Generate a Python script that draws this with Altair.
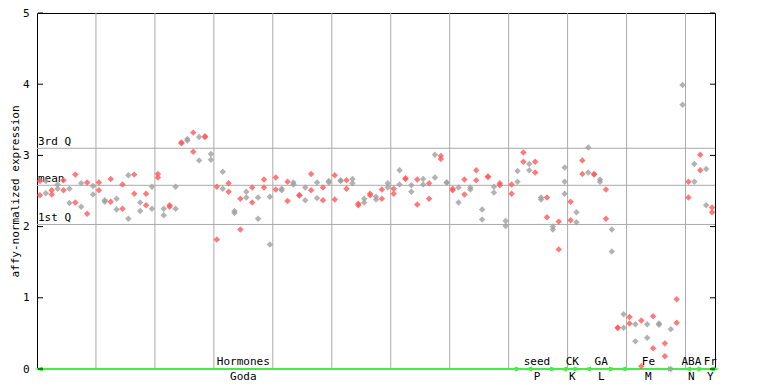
import altair as alt
import pandas as pd

# ---- data ----
val_a = [2.64, 2.64, 2.51, 2.59, 2.65, 2.53, 2.73, 2.61, 2.62, 2.57,
         2.62, 2.37, 2.67, 2.39, 2.59, 2.72, 2.73, 2.34, 2.46, 2.56,
         2.74, 2.25, 2.30, 2.56, 3.18, 3.23, 3.32, 3.26, 3.26, 3.02,
         2.56, 2.77, 2.61, 2.22, 2.39, 2.49, 2.55, 2.41, 2.66, 2.42,
         2.69, 2.53, 2.63, 2.62, 2.44, 2.55, 2.74, 2.62, 2.55, 2.64,
         2.72, 2.64, 2.65, 2.67, 2.32, 2.39, 2.46, 2.42, 2.52, 2.61,
         2.53, 2.79, 2.67, 2.58, 2.66, 2.67, 2.61, 3.01, 2.99, 2.62,
         2.53, 2.55, 2.66, 2.55, 2.79, 2.24, 2.70, 2.56, 2.61, 2.08,
         2.59, 2.78, 3.04, 2.88, 2.91, 2.41, 2.41, 2.00, 2.07, 2.83,
         2.35, 2.20, 2.93, 3.11, 2.74, 2.66, 2.52, 1.96, 0.58, 0.77,
         0.73, 0.63, 0.68, 0.63, 0.74, 0.64, 0.36, 0.56, 0.98, 3.99,
         2.63, 2.88, 3.01, 2.81, 2.27]
val_b = [2.44, 2.47, 2.45, 2.53, 2.51, 2.33, 2.34, 2.28, 2.18, 2.45,
         2.51, 2.35, 2.35, 2.24, 2.25, 2.11, 2.46, 2.22, 2.30, 2.25,
         2.69, 2.16, 2.28, 2.25, 3.17, 3.21, 3.05, 2.93, 3.27, 2.94,
         1.82, 2.53, 2.49, 2.19, 1.96, 2.41, 2.34, 2.11, 2.55, 1.75,
         2.52, 2.51, 2.36, 2.59, 2.44, 2.37, 2.51, 2.40, 2.37, 2.62,
         2.38, 2.65, 2.53, 2.61, 2.30, 2.34, 2.44, 2.38, 2.39, 2.55,
         2.46, 2.59, 2.68, 2.49, 2.31, 2.59, 2.39, 2.69, 2.95, 2.62,
         2.51, 2.34, 2.45, 2.52, 2.65, 2.10, 2.70, 2.48, 2.58, 2.01,
         2.46, 2.63, 2.91, 2.79, 2.76, 2.38, 2.13, 1.96, 1.68, 2.63,
         2.09, 2.06, 2.74, 2.76, 2.73, 2.63, 2.11, 1.65, 0.58, 0.58,
         0.64, 0.39, 0.04, 0.44, 0.29, 0.62, 0.18, 0.00, 0.65, 3.71,
         2.41, 2.63, 2.79, 2.30, 2.20]
extra_idx = [89]
extra_val = [2.46]

q_names = ["3rd Q", "mean", "1st Q"]
q_vals = [3.10, 2.58, 2.03]

grid_x = [9.5, 19.5, 29.5, 39.5, 49.5, 59.5, 69.5, 79.5, 89.5, 99.5, 109.5]
y_ticks = [0, 1, 2, 3, 4, 5]

seg_top = ["Hormones", "seed", "CK", "GA", "Fe", "ABA", "Fr"]
seg_bot = ["Goda", "P", "K", "L", "M", "N", "Y"]
seg_start = [0, 83, 89, 93, 99, 110, 114]
seg_end = [81, 87, 91, 97, 107, 112, 114.4]
seg_label_x = [34.5, 84.3, 90.3, 95.2, 103.2, 110.5, 113.7]

# ---- tables ----
rows = []
for i, (a, b) in enumerate(zip(val_a, val_b)):
    g = "r" if i % 2 == 0 else "g"
    rows.append({"x": i, "v": a, "g": g})
    rows.append({"x": i, "v": b, "g": g})
for i, v in zip(extra_idx, extra_val):
    rows.append({"x": i, "v": v, "g": "r" if i % 2 == 0 else "g"})
pts = pd.DataFrame(rows)

qdf = pd.DataFrame({"name": q_names, "v": q_vals})
gdf = pd.DataFrame({"x": grid_x})
tdf = pd.DataFrame({"v": y_ticks})
segdf = pd.DataFrame({"top": seg_top, "bot": seg_bot, "x": seg_label_x})
startdf = pd.DataFrame({"x": seg_start, "v": [0] * len(seg_start)})
enddf = pd.DataFrame({"x": seg_end, "v": [0] * len(seg_end)})

W, H = 678, 356
FONT = "DejaVu Sans Mono"
xs = alt.Scale(domain=[-0.5, 114.5], nice=False, zero=False)
ys = alt.Scale(domain=[0, 5], nice=False, zero=True)
YAXIS = alt.Axis(values=y_ticks, format="d", ticks=False, domain=False,
                 grid=False, labelFont=FONT, labelFontSize=11,
                 labelColor="black", labelPadding=8,
                 title="affy-normalized expression",
                 titleFont=FONT, titleFontSize=11,
                 titleFontWeight="normal", titleColor="black",
                 titlePadding=2)
X = lambda: alt.X("x:Q", scale=xs, axis=None)
Y = lambda: alt.Y("v:Q", scale=ys, axis=YAXIS)
GREEN = "#44ee44"

grid = alt.Chart(gdf).mark_rule(color="#aaaaaa", strokeWidth=1).encode(x=X())
qrules = alt.Chart(qdf).mark_rule(color="#aaaaaa", strokeWidth=1).encode(y=Y())
qtext = alt.Chart(qdf).mark_text(font=FONT, fontSize=11, align="left",
                                 baseline="alphabetic", dx=1, dy=-3,
                                 color="black").encode(
    x=alt.value(0), y=Y(), text="name:N")

green = alt.Chart(startdf.head(1)).mark_rule(color=GREEN, strokeWidth=2).encode(
    x=alt.value(0), x2=alt.value(W), y=Y())
left_arrows = alt.Chart(startdf).mark_point(
    shape="M 1 -0.7 L -1 0 L 1 0.7", filled=False, color=GREEN,
    strokeWidth=1.5, size=30, opacity=1).encode(x=X(), y=Y())
right_arrows = alt.Chart(enddf).mark_point(
    shape="M -1 -0.7 L 1 0 L -1 0.7", filled=False, color=GREEN,
    strokeWidth=1.5, size=30, opacity=1).encode(x=X(), y=Y())

points = alt.Chart(pts).mark_point(shape="diamond", filled=True, size=42,
                                   opacity=0.8).encode(
    x=X(),
    y=Y(),
    color=alt.Color("g:N", scale=alt.Scale(domain=["r", "g"],
                                           range=["#ff5a5a", "#a0a0a0"]),
                    legend=None),
)

lticks = alt.Chart(tdf).mark_rule(color="black", strokeWidth=1).encode(
    x=alt.value(1), x2=alt.value(6), y=Y())
rticks = alt.Chart(tdf).mark_rule(color="black", strokeWidth=1).encode(
    x=alt.value(W - 5), x2=alt.value(W), y=Y())

toplab = alt.Chart(segdf).mark_text(font=FONT, fontSize=11, dy=-7,
                                    baseline="middle", color="black").encode(
    x=X(), y=alt.datum(0, scale=ys), text="top:N")
botlab = alt.Chart(segdf).mark_text(font=FONT, fontSize=11, dy=8,
                                    baseline="middle", color="black").encode(
    x=X(), y=alt.datum(0, scale=ys), text="bot:N")

chart = alt.layer(grid, qrules, qtext, green, left_arrows, right_arrows,
                  points, lticks, rticks, toplab, botlab).properties(
    width=W, height=H,
    autosize=alt.AutoSizeParams(type="none"),
    padding={"left": 29, "top": 5, "right": 40, "bottom": 14},
    background="white",
).configure_view(stroke="black", strokeWidth=1)

chart.save("out.html", embed_options={"renderer": "svg", "actions": False})
